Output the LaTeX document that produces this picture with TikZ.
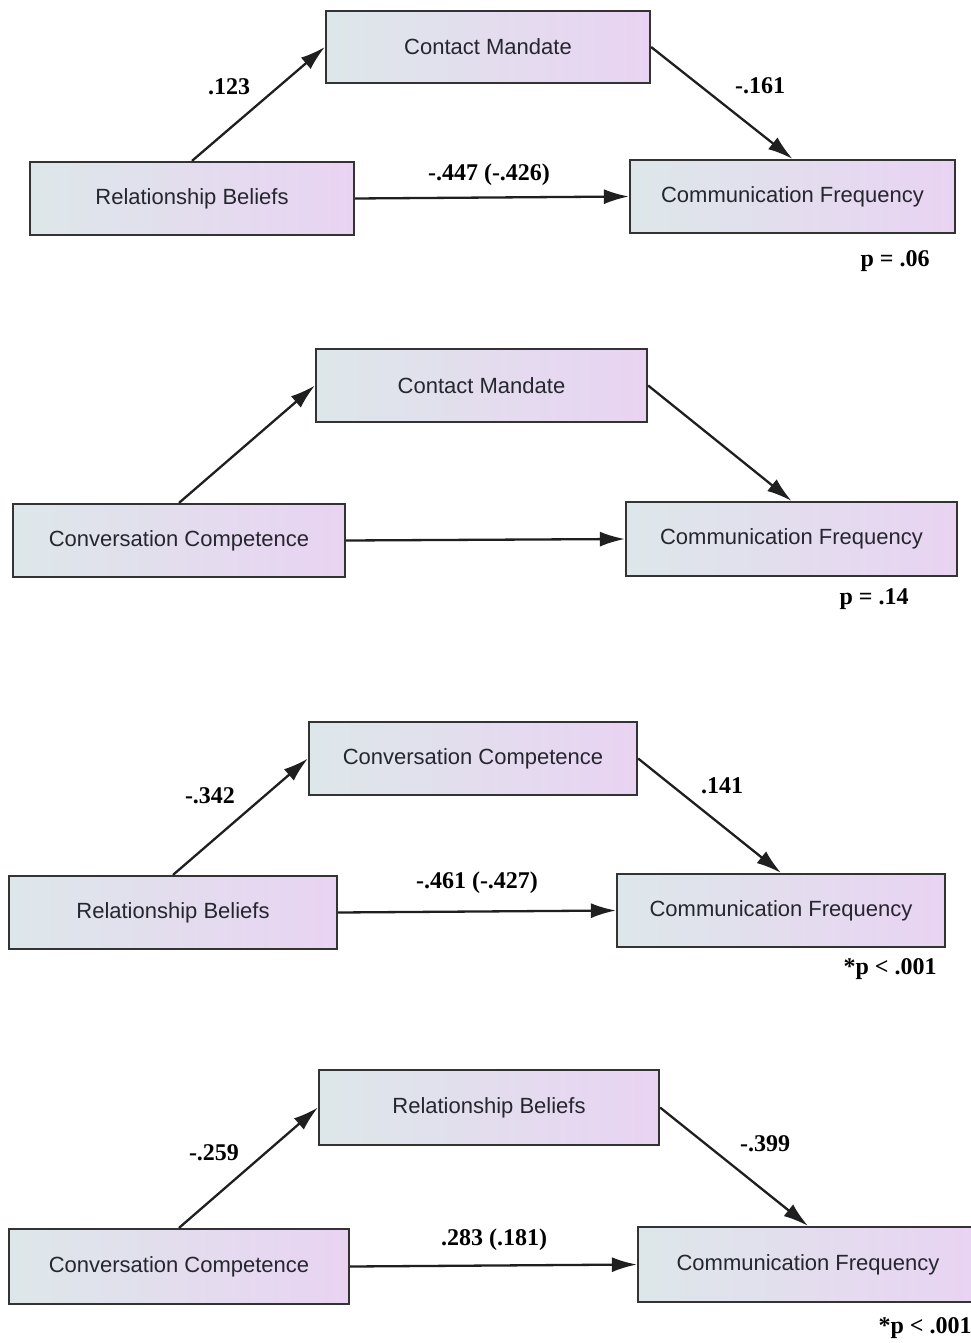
\documentclass[tikz,border=0pt]{standalone}
\usepackage{fontspec}
\setmainfont{Liberation Serif}
\newfontfamily\boxfont{Liberation Sans}
\usetikzlibrary{arrows.meta}
\definecolor{boxleft}{HTML}{DDE7EA}
\definecolor{boxright}{HTML}{E9D3F2}
\definecolor{boxline}{HTML}{333333}
\definecolor{boxtext}{HTML}{26262F}
\tikzset{
  varbox/.style={draw=boxline, line width=2.2pt, left color=boxleft, right color=boxright,
    inner sep=0pt, font=\boxfont\fontsize{22}{26}\selectfont, text=boxtext},
  pathline/.style={draw=black!88, line width=2.3pt, -{Latex[length=25pt,width=15pt]}},
  coef/.style={font=\bfseries\fontsize{24}{28}\selectfont, text=black, inner sep=0pt},
}
\begin{document}
\begin{tikzpicture}[x=1pt,y=-1pt]
\useasboundingbox (0,0) rectangle (970,1343);
\fill[white] (0,0) rectangle (970,1343);
% Panel 1
\node[varbox, minimum width=324pt, minimum height=72pt] (cm1) at (488,47) {Contact Mandate};
\node[varbox, minimum width=324pt, minimum height=73pt] (rb1) at (192,198.5) {Relationship Beliefs};
\node[varbox, minimum width=325pt, minimum height=73pt] (cf1) at (792.5,196.5) {Communication Frequency};
\draw[pathline] (rb1.north) -- (cm1.west);
\draw[pathline] (cm1.east) -- (cf1.north);
\draw[pathline] (rb1.east) -- (cf1.west);
\node[coef] (l1a) at (229,87) {.123};
\node[coef] (l1b) at (760,86) {-.161};
\node[coef] (l1c) at (489,175) {-.447 (-.426)};
\node[coef] (p1) at (895,261) {p = .06};
% Panel 2
\node[varbox, minimum width=331pt, minimum height=73pt] (cm2) at (481.5,385.5) {Contact Mandate};
\node[varbox, minimum width=332pt, minimum height=73pt] (cc2) at (179,540.5) {Conversation Competence};
\node[varbox, minimum width=331pt, minimum height=74pt] (cf2) at (791.5,539) {Communication Frequency};
\draw[pathline] (cc2.north) -- (cm2.west);
\draw[pathline] (cm2.east) -- (cf2.north);
\draw[pathline] (cc2.east) -- (cf2.west);
\node[coef] (p2) at (874,599) {p = .14};
% Panel 3
\node[varbox, minimum width=328pt, minimum height=73pt] (cc3) at (473,758.5) {Conversation Competence};
\node[varbox, minimum width=328pt, minimum height=73pt] (rb3) at (173,912.5) {Relationship Beliefs};
\node[varbox, minimum width=328pt, minimum height=73pt] (cf3) at (781,910.5) {Communication Frequency};
\draw[pathline] (rb3.north) -- (cc3.west);
\draw[pathline] (cc3.east) -- (cf3.north);
\draw[pathline] (rb3.east) -- (cf3.west);
\node[coef] (l3a) at (210,796) {-.342};
\node[coef] (l3b) at (722,786) {.141};
\node[coef] (l3c) at (477,883) {-.461 (-.427)};
\node[coef] (p3) at (890,969) {*p < .001};
% Panel 4
\node[varbox, minimum width=340pt, minimum height=75pt] (rb4) at (489,1107.5) {Relationship Beliefs};
\node[varbox, minimum width=340pt, minimum height=75pt] (cc4) at (179,1266.5) {Conversation Competence};
\node[varbox, minimum width=340pt, minimum height=75pt] (cf4) at (808,1264.5) {Communication Frequency};
\draw[pathline] (cc4.north) -- (rb4.west);
\draw[pathline] (rb4.east) -- (cf4.north);
\draw[pathline] (cc4.east) -- (cf4.west);
\node[coef] (l4a) at (214,1153) {-.259};
\node[coef] (l4b) at (765,1144) {-.399};
\node[coef] (l4c) at (494,1240) {.283 (.181)};
\node[coef] (p4) at (925,1328) {*p < .001};
\end{tikzpicture}
\end{document}
